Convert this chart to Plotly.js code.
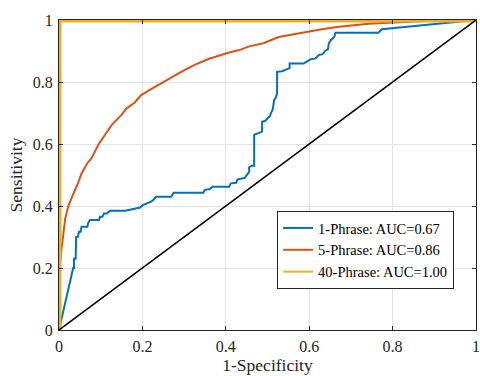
<!DOCTYPE html>
<html>
<head>
<meta charset="utf-8">
<script src="https://cdn.plot.ly/plotly-3.0.1.min.js"></script>
<style>html,body{margin:0;padding:0;background:#fff;}#chart{width:480px;height:376px;}</style>
</head>
<body>
<div id="chart"></div>
<script>
// 1-Phrase ROC curve
const blueX = [0,0.034,0.036,0.036,0.040,0.041,0.045,0.048,0.052,0.054,0.068,0.070,0.074,0.096,0.098,0.104,0.108,0.115,0.122,0.158,0.170,0.181,0.195,0.201,0.212,0.221,0.228,0.233,0.269,0.275,0.346,0.350,0.362,0.368,0.408,0.412,0.425,0.428,0.445,0.452,0.456,0.456,0.462,0.468,0.468,0.478,0.487,0.487,0.495,0.500,0.506,0.508,0.512,0.514,0.516,0.520,0.523,0.523,0.535,0.553,0.553,0.587,0.593,0.603,0.615,0.623,0.632,0.639,0.645,0.647,0.652,0.660,0.663,0.766,0.774,1];
const blueY = [0,0.200,0.200,0.230,0.230,0.300,0.300,0.317,0.317,0.333,0.333,0.345,0.355,0.355,0.365,0.365,0.376,0.376,0.385,0.385,0.388,0.392,0.395,0.403,0.408,0.414,0.422,0.430,0.430,0.443,0.443,0.452,0.455,0.462,0.462,0.473,0.475,0.486,0.490,0.505,0.510,0.525,0.530,0.530,0.630,0.635,0.640,0.672,0.675,0.683,0.690,0.699,0.710,0.725,0.742,0.750,0.763,0.833,0.835,0.845,0.860,0.860,0.865,0.873,0.876,0.887,0.890,0.901,0.905,0.925,0.935,0.945,0.959,0.959,0.970,1];
// 5-Phrase ROC curve
const orangeX = [0,0.001,0.002,0.005,0.008,0.012,0.015,0.018,0.022,0.030,0.040,0.046,0.054,0.068,0.078,0.094,0.110,0.126,0.150,0.162,0.181,0.197,0.221,0.253,0.293,0.325,0.360,0.408,0.432,0.456,0.490,0.527,0.560,0.599,0.630,0.671,0.742,0.790,0.850,0.909,1];
const orangeY = [0,0.100,0.200,0.250,0.285,0.330,0.360,0.376,0.398,0.425,0.454,0.475,0.505,0.538,0.554,0.597,0.629,0.661,0.694,0.715,0.733,0.758,0.777,0.803,0.833,0.855,0.875,0.895,0.903,0.915,0.925,0.945,0.953,0.963,0.970,0.978,0.988,0.991,0.995,0.998,1];
// 40-Phrase ROC curve
const yellowX = [0,0,1];
const yellowY = [0,1,1];
// chance diagonal
const diagX = [0,1];
const diagY = [0,1];
const seriesNames = ['1-Phrase: AUC=0.67','5-Phrase: AUC=0.86','40-Phrase: AUC=1.00'];
const tickVals = [0,0.2,0.4,0.6,0.8,1];
const tickText = ['0','0.2','0.4','0.6','0.8','1'];

const FONT = 'Liberation Serif';
const traces = [
  {x: blueX, y: blueY, mode:'lines', name: seriesNames[0], line:{color:'#0072BD', width:2}},
  {x: orangeX, y: orangeY, mode:'lines', name: seriesNames[1], line:{color:'#D95319', width:2}},
  // the 40-Phrase curve lies on the plot edges, where half the stroke is clipped: draw it wide
  {x: yellowX, y: yellowY, mode:'lines', showlegend:false, legendgroup:'y40', line:{color:'#EDB120', width:5}},
  {x: yellowX, y: yellowY, mode:'lines', name: seriesNames[2], legendgroup:'y40', line:{color:'#EDB120', width:2}},
  {x: diagX, y: diagY, mode:'lines', showlegend:false, line:{color:'#000000', width:1.5}}
];
const axisCommon = {
  range:[0,1], tickvals: tickVals, ticktext: tickText,
  showgrid:true, gridcolor:'#e3e3e3', gridwidth:1,
  zeroline:false, showline:true, linecolor:'#262626', linewidth:1,
  mirror:'ticks', ticks:'inside', ticklen:4, tickcolor:'#262626',
  ticklabeloverflow:'allow',
  tickfont:{family:FONT, size:16, color:'#262626'}, automargin:false, fixedrange:true
};
const layout = {
  width:480, height:376,
  margin:{l:59, r:4, t:20, b:46},
  paper_bgcolor:'#ffffff', plot_bgcolor:'#ffffff',
  font:{family:FONT, color:'#262626'},
  xaxis: Object.assign({}, axisCommon, {ticklabelstandoff:2, title:{text:'1-Specificity', font:{family:FONT, size:17.5, color:'#262626'}, standoff:2}}),
  yaxis: Object.assign({}, axisCommon, {ticklabelstandoff:2, title:{text:'Sensitivity', font:{family:FONT, size:17.5, color:'#262626'}, standoff:5}}),
  legend:{x:0.523, y:0.258, xanchor:'left', yanchor:'middle', bgcolor:'#ffffff', bordercolor:'#262626', borderwidth:1,
          font:{family:FONT, size:14.5, color:'#000000'}, itemwidth:30, tracegroupgap:0},
  showlegend:true
};
Plotly.newPlot('chart', traces, layout, {staticPlot:true, displayModeBar:false});
</script>
</body>
</html>
